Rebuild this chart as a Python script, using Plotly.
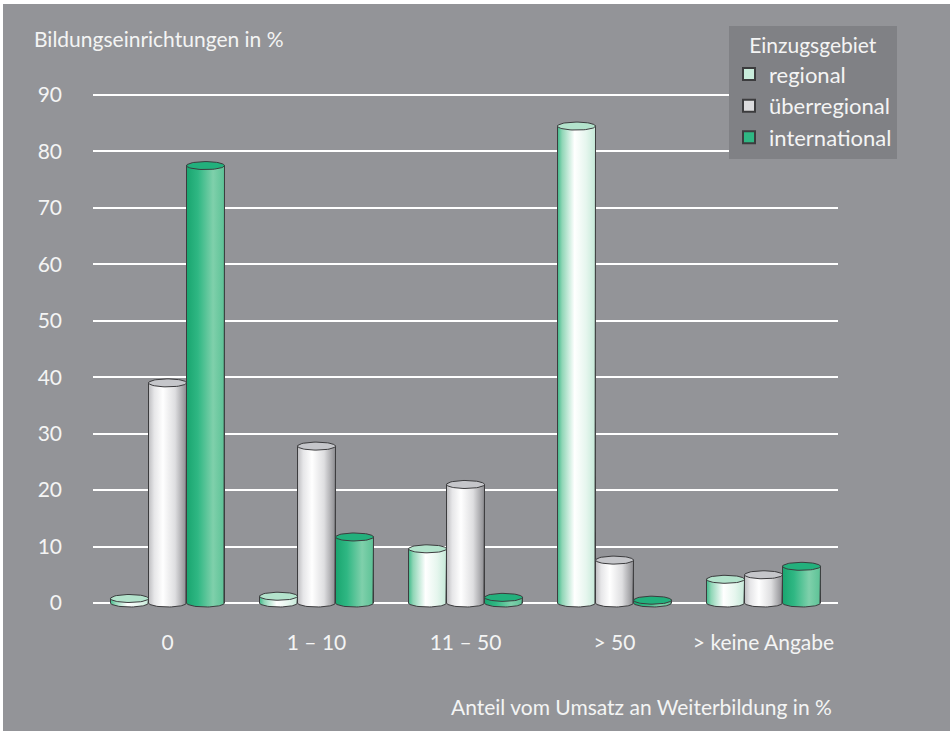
import numpy as np
import plotly.graph_objects as go

# ---- data ----
categories = ["0", "1 – 10", "11 – 50", "> 50", "> keine Angabe"]
series_names = ["regional", "überregional", "international"]
regional = [0.8, 1.2, 9.6, 84.5, 4.2]
ueberregional = [39.0, 27.8, 21.0, 7.6, 5.0]
international = [77.5, 11.7, 1.0, 0.5, 6.5]
y_ticks = [0, 10, 20, 30, 40, 50, 60, 70, 80, 90]

series_values = [regional, ueberregional, international]

# ---- styles ----
BG = "#939498"
LEGEND_BG = "#808185"
TXT = "#f4f4f4"
FONT = "Lato"
OUTLINE = "#3c3c3e"
flat_colors = ["#c9ecdb", "#dcdcde", "#2fb783"]
top_colors = ["#b3e3cc", "#c5c6ca", "#22b07c"]
gradients = [
    [[0, "#3fb98a"], [0.12, "#8fd6b6"], [0.45, "#ffffff"], [0.75, "#e6f6ee"], [1, "#c5e9d8"]],
    [[0, "#bdbdc0"], [0.15, "#e6e6e8"], [0.38, "#ffffff"], [0.7, "#dedee0"], [1, "#8c8c90"]],
    [[0, "#19a56f"], [0.3, "#2fb783"], [0.7, "#7fd0ab"], [1, "#5cc296"]],
]

BAR_W = 0.255
PX_PER_UNIT = 5.644
RY = 4.0 / PX_PER_UNIT  # ellipse vertical radius in data units

fig = go.Figure()

x_idx = list(range(len(categories)))

# real bar traces (data marks, legend)
for k, (name, vals) in enumerate(zip(series_names, series_values)):
    fig.add_trace(go.Bar(
        x=x_idx, y=vals, name=name, width=BAR_W,
        offset=-BAR_W / 2 + (k - 1) * BAR_W,
        marker=dict(color=flat_colors[k], line=dict(color=OUTLINE, width=1)),
        hoverinfo="skip",
    ))

# cylinder shading overlays derived from the same values
t = np.linspace(0, np.pi, 40)
for k, vals in enumerate(series_values):
    for i, v in enumerate(vals):
        xc = i + (k - 1) * BAR_W
        rx = BAR_W / 2
        x0, x1 = xc - rx, xc + rx
        bx = [x0, x0, x1, x1] + list(xc + rx * np.cos(t))
        by = [0, v, v, 0] + list(0 - RY * np.sin(t))
        fig.add_trace(go.Scatter(
            x=bx, y=by, mode="lines", fill="toself",
            fillgradient=dict(type="horizontal", colorscale=gradients[k]),
            line=dict(color=OUTLINE, width=1),
            showlegend=False, hoverinfo="skip",
        ))
        tt = np.linspace(0, 2 * np.pi, 60)
        fig.add_trace(go.Scatter(
            x=list(xc + rx * np.cos(tt)), y=list(v + RY * np.sin(tt)),
            mode="lines", fill="toself", fillcolor=top_colors[k],
            line=dict(color=OUTLINE, width=1),
            showlegend=False, hoverinfo="skip",
        ))

L, R, T, B = 93, 112, 20, 111
W, H = 950, 731
pw, ph = W - L - R, H - T - B

def px_x(p):
    return (p - L) / pw

def px_y(p):
    return 1 - (p - T) / ph

y0_val = -17 / PX_PER_UNIT
y1_val = y0_val + ph / PX_PER_UNIT

fig.update_layout(
    width=W, height=H,
    margin=dict(l=L, r=R, t=T, b=B),
    paper_bgcolor="#ffffff",
    plot_bgcolor="rgba(0,0,0,0)",
    barmode="overlay",
    font=dict(family=FONT, size=21, color=TXT),
    showlegend=True,
    legend=dict(
        x=px_x(729), y=px_y(26), xanchor="left", yanchor="top",
        bgcolor=LEGEND_BG, borderwidth=0,
        font=dict(size=22, color=TXT),
        title=dict(text="Einzugsgebiet", side="top center", font=dict(size=21, color=TXT)),
        itemsizing="constant", itemwidth=30,
    ),
    xaxis=dict(
        range=[-0.5, 4.5], tickvals=x_idx, ticktext=categories,
        showgrid=False, zeroline=False, showline=False, ticks="",
        ticklabelstandoff=8,
        tickfont=dict(size=21, color=TXT),
    ),
    yaxis=dict(
        range=[y0_val, y1_val], tickvals=y_ticks,
        showgrid=True, gridcolor="#ffffff", gridwidth=2,
        zeroline=False, showline=False, ticks="",
        ticklabelstandoff=30,
        tickfont=dict(size=21, color=TXT),
    ),
    shapes=[dict(
        type="rect", xref="paper", yref="paper", layer="below",
        x0=px_x(3), x1=px_x(W + 2), y0=px_y(H + 2), y1=px_y(4),
        fillcolor=BG, line=dict(width=0),
    )],
    annotations=[
        dict(text="Bildungseinrichtungen in %", xref="paper", yref="paper",
             x=px_x(32), y=px_y(38), xanchor="left", yanchor="middle",
             showarrow=False, font=dict(size=21, color=TXT)),
        dict(text="Anteil vom Umsatz an Weiterbildung in %", xref="paper", yref="paper",
             x=px_x(834), y=px_y(706), xanchor="right", yanchor="middle",
             showarrow=False, font=dict(size=21, color=TXT)),
    ],
)

fig.write_html("out.html")
